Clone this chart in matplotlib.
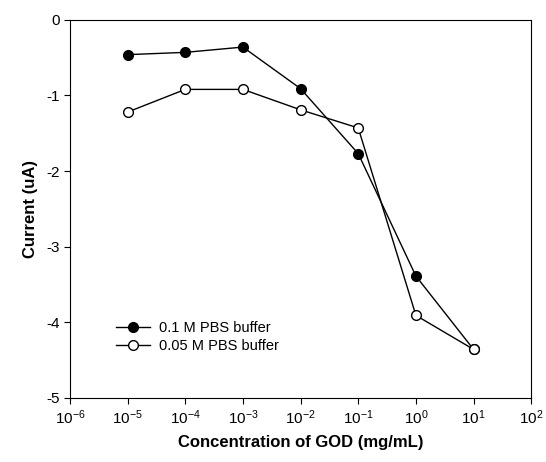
import matplotlib
matplotlib.use('Agg')
import matplotlib.pyplot as plt
from matplotlib.ticker import NullLocator

plt.rcParams['font.family'] = ['Liberation Sans', 'DejaVu Sans']

conc = [1e-5, 1e-4, 1e-3, 1e-2, 1e-1, 1e0, 1e1]
pbs_01 = [-0.46, -0.43, -0.36, -0.91, -1.77, -3.39, -4.36]
pbs_005 = [-1.22, -0.92, -0.92, -1.19, -1.43, -3.91, -4.36]
x_exps = [-6, -5, -4, -3, -2, -1, 0, 1, 2]

fig = plt.figure(figsize=(5.46, 4.62), dpi=100)
ax = fig.add_axes([0.128, 0.139, 0.845, 0.818])

ax.plot(conc, pbs_01, '-o', color='black', mfc='black', mec='black',
        ms=7, lw=1, label='0.1 M PBS buffer')
ax.plot(conc, pbs_005, '-o', color='black', mfc='white', mec='black',
        ms=7, lw=1, label='0.05 M PBS buffer')

ax.set_xscale('log')
ax.set_xlim(1e-6, 1e2)
ax.set_ylim(-5, 0)
ax.set_xticks([10.0 ** e for e in x_exps])
ax.set_xticklabels([r'$\mathregular{10^{%d}}$' % e for e in x_exps])
ax.xaxis.set_minor_locator(NullLocator())
ax.set_yticks([-5, -4, -3, -2, -1, 0])
ax.set_yticklabels(['-5', '-4', '-3', '-2', '-1', '0'])
ax.tick_params(direction='out', length=4, width=0.8, labelsize=11)
for s in ax.spines.values():
    s.set_linewidth(0.8)

ax.set_xlabel('Concentration of GOD (mg/mL)', fontsize=12, fontweight='bold', labelpad=6)
ax.set_ylabel('Current (uA)', fontsize=12, fontweight='bold', labelpad=6)

ax.legend(loc='lower left', bbox_to_anchor=(0.085, 0.1), frameon=False,
          fontsize=10.5, handlelength=2.3, handletextpad=0.6,
          labelspacing=0.25, borderpad=0)

fig.savefig('out.png', dpi=100)
